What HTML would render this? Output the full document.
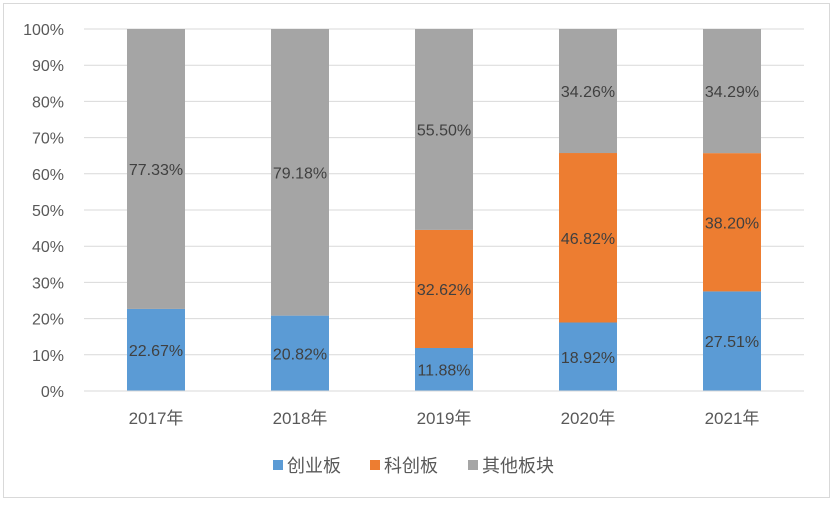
<!DOCTYPE html>
<html><head><meta charset="utf-8"><style>
body{margin:0;background:#fff;}
svg text{font-family:"Liberation Sans","Noto Sans CJK SC",sans-serif;fill:#595959;}
</style></head><body>
<svg id="chart" width="833" height="505" xmlns="http://www.w3.org/2000/svg">
<rect x="3.5" y="3.5" width="826" height="494" fill="#fff" stroke="#d9d9d9"/>
<g id="grid"></g><g id="bars"></g><g id="labels"></g><g id="axes"></g>
<g>
<rect x="273" y="460" width="10" height="10" fill="#5b9bd5"/>
<text x="287" y="472" font-size="18">创业板</text>
<rect x="370" y="460" width="10" height="10" fill="#ed7d31"/>
<text x="384" y="472" font-size="18">科创板</text>
<rect x="468" y="460" width="10" height="10" fill="#a5a5a5"/>
<text x="482" y="472" font-size="18">其他板块</text>
</g>
</svg>
<script>
const categories=["2017年","2018年","2019年","2020年","2021年"];
const chuangye=[22.67,20.82,11.88,18.92,27.51];
const kechuang=[0,0,32.62,46.82,38.20];
const other=[77.33,79.18,55.50,34.26,34.29];
const yTicks=[0,10,20,30,40,50,60,70,80,90,100];
const NS="http://www.w3.org/2000/svg";
const x0=84,x1=804,yTop=29,yBot=391,bw=58;
const y=v=>yBot-(v/100)*(yBot-yTop);
const xc=i=>x0+(i+0.5)*(x1-x0)/categories.length;
function mk(t,a,p){const e=document.createElementNS(NS,t);for(const k in a)e.setAttribute(k,a[k]);p.appendChild(e);return e;}
const grid=document.getElementById('grid'),bars=document.getElementById('bars'),labels=document.getElementById('labels'),axes=document.getElementById('axes');
yTicks.forEach(t=>{
  const l=mk('line',{x1:x0,x2:x1,y1:y(t),y2:y(t),stroke:'#d9d9d9','stroke-width':1},grid);
  
  
  const tx=mk('text',{x:64,y:y(t)+6,'text-anchor':'end','font-size':16},axes);
  tx.textContent=t+'%';
  
  
});
const series=[[chuangye,'#5b9bd5','chuangye'],[kechuang,'#ed7d31','kechuang'],[other,'#a5a5a5','other']];
categories.forEach((c,i)=>{
  let base=0;
  series.forEach(([arr,col,nm])=>{
    const v=arr[i];
    if(v>0){
      const r=mk('rect',{x:xc(i)-bw/2,y:y(base+v),width:bw,height:y(base)-y(base+v),fill:col},bars);
      
      
      const t=mk('text',{x:xc(i),y:y(base+v/2)+6,'text-anchor':'middle','font-size':16,style:'fill:#404040'},labels);
      t.textContent=v.toFixed(2)+'%';
      
      
    }
    base+=v;
  });
  const tx=mk('text',{x:xc(i),y:424,'text-anchor':'middle','font-size':17},axes);
  tx.textContent=c;
  
  
});
const ax=mk('line',{x1:x0,x2:x1,y1:yBot,y2:yBot,stroke:'#d9d9d9','stroke-width':1},axes);


</script>
</body></html>
